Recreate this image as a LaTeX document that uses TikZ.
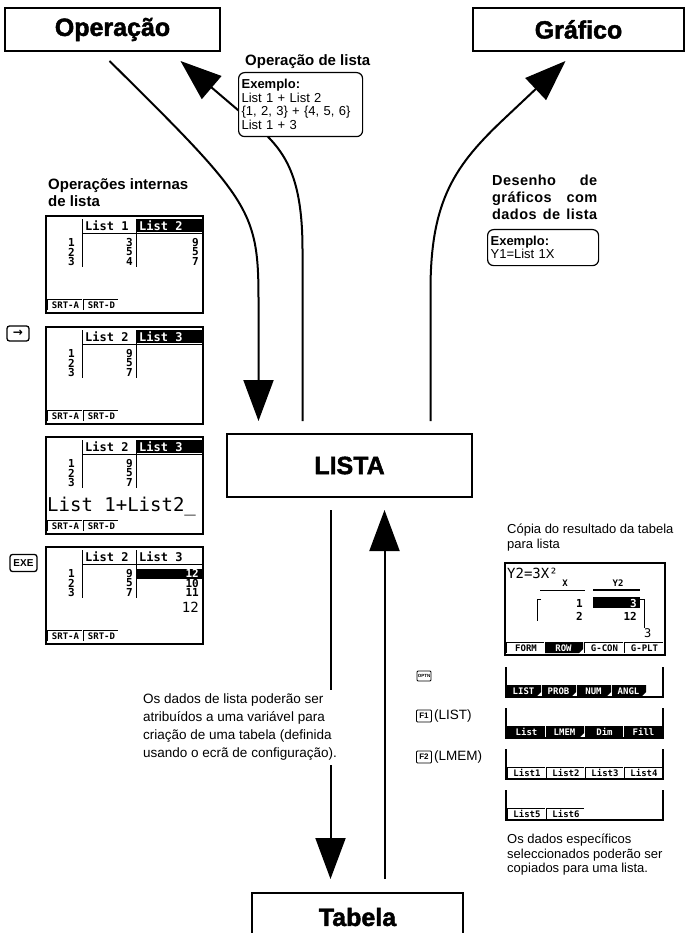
\documentclass[tikz,border=0pt]{standalone}
\usepackage{fontspec}
\setmainfont{Liberation Sans}
\newfontfamily\lcdfont{DejaVu Sans Mono}
\newfontfamily\symfont{DejaVu Sans}
\newfontfamily\titlefont[FakeBold=1.8]{Liberation Sans Bold}
\usetikzlibrary{arrows.meta}

% calculator function-key label: name, x, top, width, text
\newcommand{\fkey}[5]{%
  \draw[lcdline] (#2,#3+11) -- (#2,#3) -- (#2+#4-1,#3);
  \node[fkeytext] (#1) at (#2+#4/2+0.5,#3+6) {#5};
}
% inverted label with submenu notch
\newcommand{\ftab}[5]{%
  \fill (#2,#3) -- (#2+#4-1,#3) -- (#2+#4-1,#3+7) -- (#2+#4-5,#3+11) -- (#2,#3+11) -- cycle;
  \node[fkeytext, text=white] (#1) at (#2+#4/2-1,#3+6) {#5};
}
% inverted label
\newcommand{\finv}[5]{%
  \fill (#2,#3) rectangle (#2+#4-1,#3+11);
  \node[fkeytext, text=white] (#1) at (#2+#4/2,#3+6) {#5};
}
% list editor screen, origin top left
\newcommand{\listscreen}[1]{%
  \draw[lcdframe] (0,0) rectangle (157,97);
  \draw[lcdline] (36,3) -- (36,51);
  \draw[lcdline] (90,3) -- (90,51);
  \draw[lcdline] (36,17) -- (156,17);
  \foreach \r in {1,2,3}
    \node[lcdnum] (#1row\r) at (29,17+9.5*\r) {\r};
  \fkey{#1srta}{1}{83}{36}{SRT-A}
  \fkey{#1srtd}{37}{83}{36}{SRT-D}
}
% open menu strip
\newcommand{\menuframe}{\draw[lcdframe] (0,0) -- (0,30) -- (157,30) -- (157,0);}

\begin{document}
\begin{tikzpicture}[x=1pt, y=-1pt,
    flow/.style={line width=2pt, -{Triangle[length=41pt,width=30pt]}},
    titlebox/.style={draw, line width=2pt, inner sep=0pt, font=\titlefont\fontsize{25}{28}\selectfont},
    examplebox/.style={draw, fill=white, line width=1.2pt, rounded corners=6pt, align=left,
        anchor=north west, inner sep=3pt, font=\fontsize{13}{13.5}\selectfont},
    boldnote/.style={anchor=north west, inner sep=0pt, align=left, font=\bfseries\fontsize{15}{17}\selectfont},
    bodytext/.style={anchor=north west, inner sep=0pt, align=left, font=\fontsize{13}{14.5}\selectfont},
    keybox/.style={draw, line width=1.3pt, rounded corners=2.5pt, inner sep=0pt},
    lcdframe/.style={line width=1.8pt},
    lcdline/.style={line width=1pt},
    lcdhead/.style={anchor=west, inner sep=0pt, font=\lcdfont\bfseries\fontsize{12}{12}\selectfont},
    lcdnum/.style={anchor=east, inner sep=0pt, font=\lcdfont\bfseries\fontsize{11}{11}\selectfont},
    lcdkey/.style={inner sep=0pt, font=\lcdfont\bfseries\fontsize{9}{9}\selectfont},
    menukey/.style={inner sep=0pt, font=\lcdfont\bfseries\fontsize{9}{9}\selectfont},
    fkeytext/.style={lcdkey}]
    \useasboundingbox (0,0) rectangle (685,933);

    % Main boxes
    \node[titlebox, minimum width=215pt, minimum height=43pt] (opbox) at (112.5,29.5) {Operação};
    \node[titlebox, minimum width=211pt, minimum height=43pt] (grbox) at (578.5,29.5) {Gráfico};
    \node[titlebox, minimum width=245pt, minimum height=63pt] (lista) at (349.5,465.5) {LISTA};
    \node[titlebox, minimum width=211pt, minimum height=48pt] (tabbox) at (357.5,917) {Tabela};

    % Arrow ends
    \coordinate (opout) at ([xshift=-3pt,yshift=-9pt]opbox.south);
    \coordinate (opin) at ([xshift=68pt,yshift=-9pt]opbox.south);
    \coordinate (grin) at ([xshift=-13pt,yshift=-9pt]grbox.south);
    \coordinate (listain) at ([xshift=-91pt,yshift=12pt]lista.north);
    \coordinate (listaop) at ([xshift=-47pt,yshift=12pt]lista.north);
    \coordinate (listagr) at ([xshift=81pt,yshift=12pt]lista.north);
    \coordinate (listatab) at ([xshift=-19pt,yshift=-12pt]lista.south);
    \coordinate (tablista) at ([xshift=35pt,yshift=-12pt]lista.south);
    \coordinate (tabin) at ([xshift=-27pt,yshift=13pt]tabbox.north);
    \coordinate (tabout) at ([xshift=27pt,yshift=13pt]tabbox.north);

    % Arrows
    \draw[flow] (opout) .. controls (250,200) and (listain |- 0,210) .. (listain |- 0,300) -- (listain);
    \draw[flow] (listaop) -- (listaop |- 0,250) .. controls (listaop |- 0,170) and (282,148) .. (252,122) -- (opin);
    \draw[flow] (listagr) -- (listagr |- 0,290) .. controls (listagr |- 0,200) and (455,165) .. (505,118) -- (grin);
    \draw[flow] (listatab) -- (tabin);
    \draw[flow] (tabout) -- (tablista);

    % Notes on the arrows
    \node[boldnote, anchor=west] (opnote) at (245,62) {Operação de lista};
    \node[examplebox, text width=118pt, minimum height=64pt] (opex) at (238,72)
        {\textbf{Exemplo:}\\List 1 + List 2\\\{1, 2, 3\} + \{4, 5, 6\}\\List 1 + 3};
    \node[boldnote, font=\fontsize{14.5}{17}\selectfont\bfseries\addfontfeatures{LetterSpace=3}] (grnote) at (492,175)
        {\makebox[105pt][s]{Desenho de}\\\makebox[105pt][s]{gráficos com}\\\makebox[105pt][s]{dados de lista}};
    \node[examplebox, text width=105pt, minimum height=36pt] (grex) at (487,229)
        {\textbf{Exemplo:}\\Y1=List 1X};
    \node[bodytext, fill=white, inner sep=4pt, font=\fontsize{13.5}{18}\selectfont] (tabnote) at (139,690)
        {Os dados de lista poderão ser\\atribuídos a uma variável para\\criação de uma tabela (definida\\usando o ecrã de configuração).};

    % Left column
    \node[boldnote] (innote) at (48,178) {Operações internas\\de lista};
    \begin{scope}[shift={(46,216)}]
        \listscreen{sa}
        \node[lcdhead] (sah1) at (39,10) {List 1};
        \fill (91,3) rectangle (156,16);
        \node[lcdhead, text=white] (sah2) at (93,10) {List 2};
        \foreach \v [count=\i] in {3,5,4} \node[lcdnum] (saa\i) at (87,17+9.5*\i) {\v};
        \foreach \v [count=\i] in {9,5,7} \node[lcdnum] (sab\i) at (153,17+9.5*\i) {\v};
    \end{scope}
    \node[keybox, minimum width=22pt, minimum height=15pt, font=\symfont\bfseries\fontsize{12}{12}\selectfont] (rightkey) at (18,333.5) {→};
    \begin{scope}[shift={(46,327)}]
        \listscreen{sb}
        \node[lcdhead] (sbh1) at (39,10) {List 2};
        \fill (91,3) rectangle (156,16);
        \node[lcdhead, text=white] (sbh2) at (93,10) {List 3};
        \foreach \v [count=\i] in {9,5,7} \node[lcdnum] (sba\i) at (87,17+9.5*\i) {\v};
    \end{scope}
    \begin{scope}[shift={(46,437)}]
        \listscreen{sc}
        \node[lcdhead] (sch1) at (39,10) {List 2};
        \fill (91,3) rectangle (156,16);
        \node[lcdhead, text=white] (sch2) at (93,10) {List 3};
        \foreach \v [count=\i] in {9,5,7} \node[lcdnum] (sca\i) at (87,17+9.5*\i) {\v};
        \node[anchor=west, inner sep=0pt, font=\lcdfont\fontsize{19}{19}\selectfont] (scin) at (1,70) {List 1+List2\_};
    \end{scope}
    \node[keybox, minimum width=27pt, minimum height=17pt, font=\bfseries\fontsize{10}{10}\selectfont] (exekey) at (23.5,563) {EXE};
    \begin{scope}[shift={(46,547)}]
        \listscreen{sd}
        \node[lcdhead] (sdh1) at (39,10) {List 2};
        \node[lcdhead] (sdh2) at (93,10) {List 3};
        \foreach \v [count=\i] in {9,5,7} \node[lcdnum] (sda\i) at (87,17+9.5*\i) {\v};
        \fill (91,21.5) rectangle (156,31.5);
        \node[lcdnum, text=white] (sdb1) at (153,26.5) {12};
        \node[lcdnum] (sdb2) at (153,36) {10};
        \node[lcdnum] (sdb3) at (153,45.5) {11};
        \node[anchor=east, inner sep=0pt, font=\lcdfont\fontsize{14}{14}\selectfont] (sdin) at (153,60) {12};
    \end{scope}

    % Right column
    \node[bodytext] (copynote) at (507,524) {Cópia do resultado da tabela\\para lista};
    \begin{scope}[shift={(505,563)}, fkeytext/.style={menukey}]
        \draw[lcdframe] (0,0) rectangle (160,92);
        \node[anchor=west, inner sep=0pt, font=\lcdfont\fontsize{14}{14}\selectfont] (rafunc) at (2,10) {Y2=3X²};
        \node[lcdkey] (rax) at (60,20) {X};
        \node[lcdkey] (ray) at (113,20) {Y2};
        \draw[lcdline] (35,27) -- (80,27);
        \draw[line width=2.5pt] (88,27) -- (135,27);
        \draw[lcdline] (36,36) -- (32,36) -- (32,58);
        \draw[lcdline] (135,36) -- (139,36) -- (139,65);
        \node[lcdnum] (rax1) at (78,40) {1};
        \node[lcdnum] (rax2) at (78,53) {2};
        \fill (88,34) rectangle (135,45);
        \node[lcdnum, text=white] (ray1) at (132,40) {3};
        \node[lcdnum] (ray2) at (132,53) {12};
        \node[anchor=west, inner sep=0pt, font=\lcdfont\fontsize{12}{12}\selectfont] (radim) at (139,70) {3};
        \fkey{raform}{1}{79}{39}{FORM}
        \ftab{rarow}{40}{79}{39}{ROW}
        \fkey{racon}{79}{79}{40}{G-CON}
        \fkey{raplt}{119}{79}{40}{G-PLT}
    \end{scope}

    \node[keybox, line width=0.8pt, rounded corners=1pt, minimum width=14pt, minimum height=10pt,
        font=\bfseries\fontsize{4.5}{5}\selectfont] (optnkey) at (424,676) {OPTN};
    \node[keybox, line width=0.8pt, rounded corners=1pt, minimum width=15pt, minimum height=12pt,
        font=\bfseries\fontsize{8}{8}\selectfont] (fonekey) at (424,716) {F1};
    \node[bodytext, anchor=west, font=\fontsize{13.5}{14}\selectfont] (fonetxt) at ([xshift=2pt]fonekey.east) {(LIST)};
    \node[keybox, line width=0.8pt, rounded corners=1pt, minimum width=15pt, minimum height=12pt,
        font=\bfseries\fontsize{8}{8}\selectfont] (ftwokey) at (424,757) {F2};
    \node[bodytext, anchor=west, font=\fontsize{13.5}{14}\selectfont] (ftwotxt) at ([xshift=2pt]ftwokey.east) {(LMEM)};

    \begin{scope}[shift={(506,667)}, fkeytext/.style={menukey}]
        \menuframe
        \ftab{rbl}{1}{18}{35}{LIST}
        \ftab{rbp}{36}{18}{35}{PROB}
        \ftab{rbn}{71}{18}{35}{NUM}
        \ftab{rba}{106}{18}{35}{ANGL}
    \end{scope}
    \begin{scope}[shift={(506,708)}, fkeytext/.style={menukey}]
        \menuframe
        \finv{rcl}{1}{18}{39}{List}
        \ftab{rcm}{40}{18}{39}{LMEM}
        \finv{rcd}{79}{18}{39}{Dim}
        \finv{rcf}{118}{18}{39}{Fill}
    \end{scope}
    \begin{scope}[shift={(506,749)}, fkeytext/.style={menukey}]
        \menuframe
        \fkey{rd1}{1}{18}{39}{List1}
        \fkey{rd2}{40}{18}{39}{List2}
        \fkey{rd3}{79}{18}{39}{List3}
        \fkey{rd4}{118}{18}{39}{List4}
    \end{scope}
    \begin{scope}[shift={(506,790)}, fkeytext/.style={menukey}]
        \menuframe
        \fkey{re5}{1}{18}{39}{List5}
        \fkey{re6}{40}{18}{39}{List6}
    \end{scope}
    \node[bodytext] (copyend) at (507,834) {Os dados específicos\\seleccionados poderão ser\\copiados para uma lista.};
\end{tikzpicture}
\end{document}
